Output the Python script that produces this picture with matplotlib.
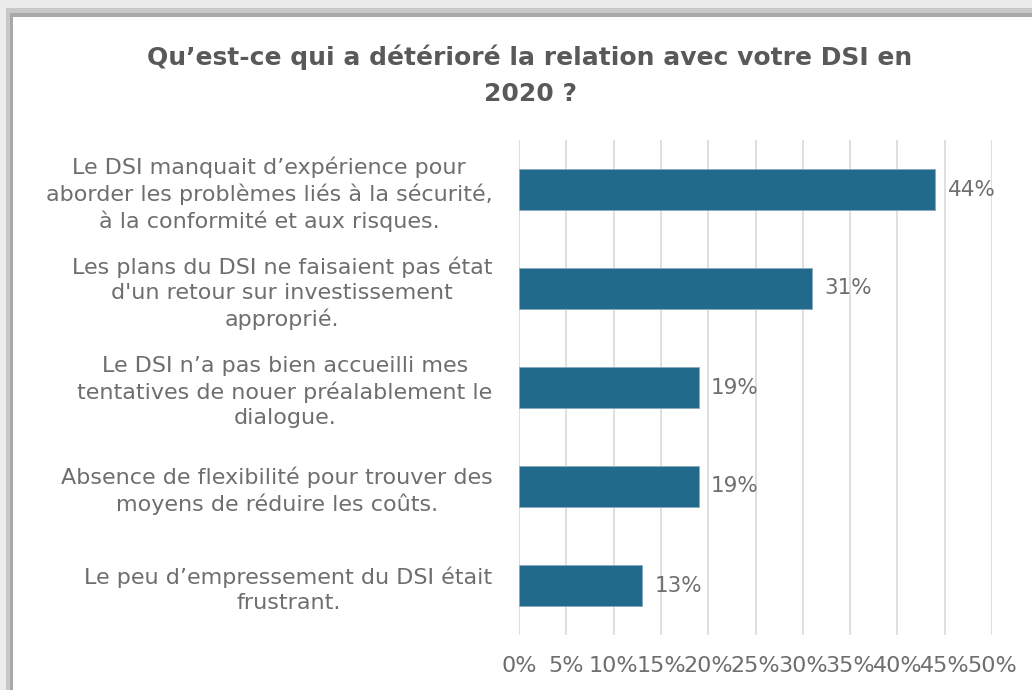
import matplotlib
matplotlib.use("Agg")
import matplotlib.pyplot as plt
from matplotlib.patches import Rectangle
from matplotlib.ticker import FuncFormatter

categories = [
    "Le DSI manquait d\u2019expérience pour\naborder les problèmes liés à la sécurité,\nà la conformité et aux risques.",
    "Les plans du DSI ne faisaient pas état\nd'un retour sur investissement\napproprié.",
    "Le DSI n\u2019a pas bien accueilli mes\ntentatives de nouer préalablement le\ndialogue.",
    "Absence de flexibilité pour trouver des\nmoyens de réduire les coûts.",
    "Le peu d\u2019empressement du DSI était\nfrustrant.",
]
values = [44, 31, 19, 19, 13]
ticks = [0, 5, 10, 15, 20, 25, 30, 35, 40, 45, 50]

bar_color = "#216a8c"
text_color = "#6e6e6e"
title_color = "#595959"

plt.rcParams['font.family'] = ['DejaVu Sans']

fig = plt.figure(figsize=(10.32, 6.9), dpi=100, facecolor="#ececec")

# shadow frame + white card
fig.patches.append(Rectangle((6 / 1032, 0), 1, 1 - 8 / 690, transform=fig.transFigure,
                             facecolor="#c8c8c8", edgecolor="none", zorder=-10))
fig.patches.append(Rectangle((10 / 1032, 0), 1, 1 - 13 / 690, transform=fig.transFigure,
                             facecolor="#a8a8a8", edgecolor="none", zorder=-9))
fig.patches.append(Rectangle((13 / 1032, 0), 1, 1 - 17 / 690, transform=fig.transFigure,
                             facecolor="white", edgecolor="none", zorder=-8))

ax = fig.add_axes([519 / 1032, 55 / 690, 473 / 1032, 495 / 690], zorder=1)
ax.set_facecolor("none")

y = list(range(len(categories)))
ax.barh(y, values, height=0.41, color=bar_color, edgecolor="#8aa9bf", linewidth=0.6, zorder=3)
for yi, v in zip(y, values):
    ax.text(v + 1.3, yi, f"{v}%", va="center", ha="left", fontsize=15.5, color=text_color)

ax.set_xlim(0, 50)
ax.set_ylim(len(categories) - 0.5, -0.5)
ax.set_xticks(ticks)
ax.xaxis.set_major_formatter(FuncFormatter(lambda x, p: f"{int(x)}%"))
ax.set_yticks(y)
ax.set_yticklabels(categories, multialignment="center", linespacing=1.3)
ax.tick_params(axis="y", length=0, pad=19, labelsize=16, labelcolor=text_color)
ax.tick_params(axis="x", length=0, pad=15, labelsize=16, labelcolor=text_color)
ax.grid(axis="x", color="#d9d9d9", linewidth=1.2, zorder=0)
for s in ax.spines.values():
    s.set_visible(False)

fig.text(530 / 1032, 1 - 44 / 690, "Qu\u2019est-ce qui a détérioré la relation avec votre DSI en\n2020 ?",
         ha="center", va="top", fontsize=18, fontweight="bold", color=title_color,
         linespacing=1.65, zorder=2)

fig.savefig("out.png", dpi=100, facecolor=fig.get_facecolor())
